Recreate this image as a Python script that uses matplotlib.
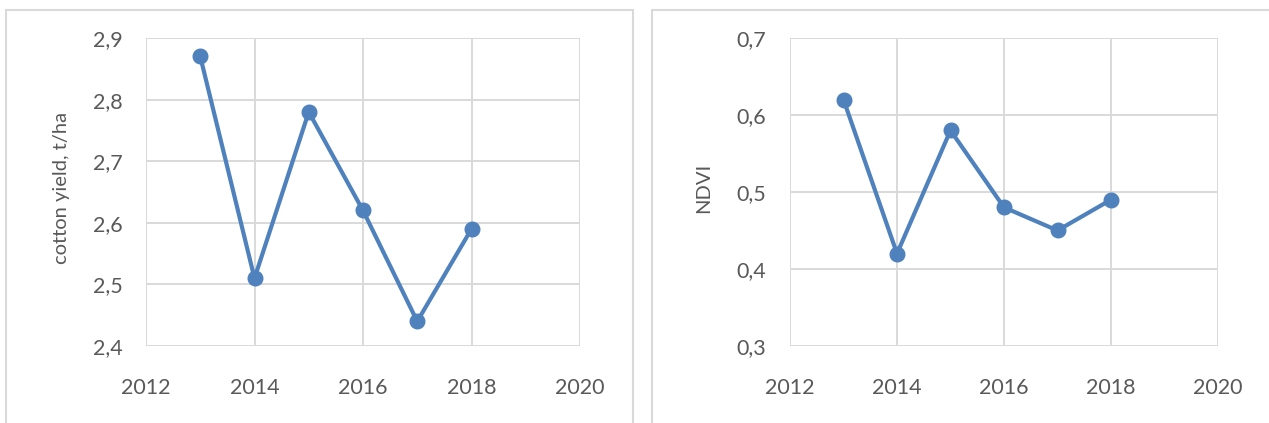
import matplotlib
matplotlib.use("Agg")
import matplotlib.pyplot as plt
from matplotlib.patches import Rectangle
from matplotlib.ticker import FuncFormatter

years = [2013, 2014, 2015, 2016, 2017, 2018]
cotton_yield = [2.87, 2.51, 2.78, 2.62, 2.44, 2.59]
ndvi = [0.62, 0.42, 0.58, 0.48, 0.45, 0.49]

x_ticks = [2012, 2014, 2016, 2018, 2020]
yield_ticks = [2.4, 2.5, 2.6, 2.7, 2.8, 2.9]
ndvi_ticks = [0.3, 0.4, 0.5, 0.6, 0.7]

BLUE = "#4f81bd"
GRID = "#d9d9d9"
TEXT = "#595959"
W, H = 1269, 423

plt.rcParams["font.family"] = ["Lato", "DejaVu Sans"]

fig = plt.figure(figsize=(W / 100, H / 100), dpi=100)


def px(x0, y0, x1, y1):
    # pixel box (top-left origin) -> figure fraction rect
    return [x0 / W, 1 - y1 / H, (x1 - x0) / W, (y1 - y0) / H]


def comma(v, _):
    return f"{v:.1f}".replace(".", ",")


def panel(rect, values, yticks, ylabel, label_x):
    ax = fig.add_axes(rect)
    ax.plot(years, values, color=BLUE, lw=3.0, marker="o", ms=10.5, zorder=3)
    ax.set_xlim(x_ticks[0], x_ticks[-1])
    ax.set_ylim(yticks[0], yticks[-1])
    ax.set_xticks(x_ticks)
    ax.set_yticks(yticks)
    ax.yaxis.set_major_formatter(FuncFormatter(comma))
    ax.grid(True, color=GRID, lw=1.4)
    ax.set_axisbelow(True)
    for s in ax.spines.values():
        s.set_visible(False)
    ax.tick_params(length=0, colors=TEXT, labelsize=15.5)
    ax.tick_params(axis="x", pad=23)
    ax.tick_params(axis="y", pad=17)
    fig.text(label_x / W, 1 - 188 / H, ylabel, rotation=90, ha="center",
             va="center", color=TEXT, fontsize=14.5)
    return ax


panel(px(146, 38, 580, 346), cotton_yield, yield_ticks, "cotton yield, t/ha", 62)
panel(px(790, 38, 1218, 346), ndvi, ndvi_ticks, "NDVI", 704)

# chart frames
for x0, x1 in [(6, 633), (652, 1290)]:
    fig.patches.append(Rectangle((x0 / W, -0.1), (x1 - x0) / W, 1.1 - 10 / H,
                                 transform=fig.transFigure, fill=False,
                                 edgecolor=GRID, lw=1.5))

fig.savefig("out.png", dpi=100)
